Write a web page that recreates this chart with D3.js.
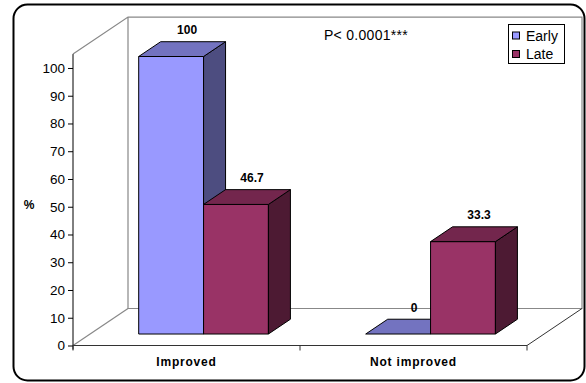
<!DOCTYPE html>
<html>
<head>
<meta charset="utf-8">
<script src="https://cdn.jsdelivr.net/npm/d3@7"></script>
<style>
  html, body { margin: 0; padding: 0; background: #fff; }
  svg { display: block; font-family: "Liberation Sans", Arial, sans-serif; }
</style>
</head>
<body>
<svg id="chart" width="586" height="383"></svg>
<script>
// Data
const categories = ["Improved", "Not improved"];
const seriesNames = ["Early", "Late"];
const earlyValues = [100, 0];
const lateValues = [46.7, 33.3];
const yTicks = [0, 10, 20, 30, 40, 50, 60, 70, 80, 90, 100];
const pLabel = "P< 0.0001***";

const seriesValues = { Early: earlyValues, Late: lateValues };
const colors = {
  Early: { front: "#9999FF", top: "#7373C0", side: "#4D4D80" },
  Late:  { front: "#993366", top: "#73264D", side: "#4D1A33" }
};

const svg = d3.select("#chart");

// Outer frame
svg.append("rect")
  .attr("x", 13.5).attr("y", 4.5).attr("width", 571).attr("height", 376)
  .attr("rx", 14).attr("ry", 14)
  .attr("fill", "#fff").attr("stroke", "#000").attr("stroke-width", 2);

// Plot geometry (front plane + depth vector of the 3D box)
const left = 73, right = 527;
const depth = { dx: 55, dy: -37 };
const y = d3.scaleLinear().domain([0, 105]).range([345.5, 54.1]);
const x0 = d3.scaleBand().domain(categories).range([left, right]).padding(0);
const x1 = d3.scaleBand().domain(seriesNames).range([0, x0.bandwidth()]).paddingOuter(0.75).paddingInner(0);

const yTop = y(105), yBase = y(0);
const wallColor = "#888";

// Back wall, side wall, floor
const walls = svg.append("g").attr("fill", "none").attr("stroke", wallColor).attr("stroke-width", 1.2);
walls.append("path").attr("d", d3.line()([
  [left, yTop], [left + depth.dx, yTop + depth.dy], [right + depth.dx, yTop + depth.dy],
  [right + depth.dx, yBase + depth.dy], [left + depth.dx, yBase + depth.dy], [left + depth.dx, yTop + depth.dy]
]));
walls.append("path").attr("d", d3.line()([[left, yBase], [left + depth.dx, yBase + depth.dy]]));
svg.append("path")
  .attr("d", d3.line()([[right, yBase], [right + depth.dx, yBase + depth.dy]]))
  .attr("stroke", "#333").attr("fill", "none");

// Bars: front face sits at 0.31 of the depth, bar depth is 0.40 of it
const fFront = 0.31, fDepth = 0.40;
const ox = depth.dx * fFront, oy = depth.dy * fFront;
const bx = depth.dx * fDepth, by = depth.dy * fDepth;

const bars = [];
categories.forEach((c, i) => {
  seriesNames.forEach(s => {
    bars.push({ cat: c, series: s, value: seriesValues[s][i] });
  });
});

const barG = svg.append("g").attr("stroke", "#000").attr("stroke-width", 1).attr("stroke-linejoin", "round");
bars.forEach(d => {
  const xL = x0(d.cat) + x1(d.series) + ox;
  const xR = xL + x1.bandwidth();
  const yB = y(0) + oy;
  const yT = y(d.value) + oy;
  const col = colors[d.series];
  if (d.value > 0) {
    barG.append("path").attr("fill", col.front)
      .attr("d", d3.line()([[xL, yT], [xR, yT], [xR, yB], [xL, yB]]) + "Z");
    barG.append("path").attr("fill", col.side)
      .attr("d", d3.line()([[xR, yT], [xR + bx, yT + by], [xR + bx, yB + by], [xR, yB]]) + "Z");
  }
  barG.append("path").attr("fill", col.top)
    .attr("d", d3.line()([[xL, yT], [xL + bx, yT + by], [xR + bx, yT + by], [xR, yT]]) + "Z");

  svg.append("text")
    .attr("x", (xL + xR) / 2 + bx / 2 + 5)
    .attr("y", yT + by / 2 - 19)
    .attr("text-anchor", "middle").attr("dominant-baseline", "central")
    .attr("font-size", 12).attr("font-weight", "bold").attr("fill", "#000")
    .text(d.value);
});

// Y axis
const yAxis = svg.append("g")
  .attr("transform", `translate(${left},0)`)
  .call(d3.axisLeft(y).tickValues(yTicks).tickSize(5).tickPadding(3).tickFormat(d3.format("d")));
yAxis.select(".domain").attr("d", `M-0,${yTop}V${yBase + 4}`).attr("stroke", "#000");
yAxis.selectAll(".tick line").attr("stroke", "#000");
yAxis.selectAll(".tick text").attr("font-size", 13.5).attr("fill", "#000")
  .attr("font-family", "'Liberation Sans', Arial, sans-serif");

svg.append("text")
  .attr("x", 29).attr("y", 205).attr("text-anchor", "middle").attr("dominant-baseline", "central")
  .attr("font-size", 12).attr("font-weight", "bold").text("%");

// Category axis
const xAxis = svg.append("g").attr("transform", `translate(0,${yBase})`);
xAxis.append("line").attr("x1", left).attr("x2", right).attr("stroke", "#333").attr("stroke-width", 1.2);
const boundaries = [left].concat(categories.map(c => x0(c) + x0.bandwidth()));
xAxis.selectAll("line.tick").data(boundaries).join("line")
  .attr("class", "tick").attr("x1", d => d).attr("x2", d => d).attr("y1", 0).attr("y2", 5)
  .attr("stroke", "#333");
xAxis.selectAll("text").data(categories).join("text")
  .attr("x", d => x0(d) + x0.bandwidth() / 2).attr("y", 16)
  .attr("text-anchor", "middle").attr("dominant-baseline", "central")
  .attr("font-size", 12).attr("font-weight", "bold").attr("letter-spacing", 0.8).text(d => d);

// Significance note
svg.append("text")
  .attr("x", 366).attr("y", 35).attr("text-anchor", "middle").attr("dominant-baseline", "central")
  .attr("font-size", 14).attr("letter-spacing", 0.3).text(pLabel);

// Legend
const legend = svg.append("g");
legend.append("rect").attr("x", 508.5).attr("y", 24.5).attr("width", 56).attr("height", 39)
  .attr("fill", "#fff").attr("stroke", "#000");
seriesNames.forEach((s, i) => {
  const cy = 35.5 + i * 18.5;
  legend.append("rect").attr("x", 512.5).attr("y", cy - 3.5).attr("width", 7).attr("height", 7)
    .attr("fill", colors[s].front).attr("stroke", "#000");
  legend.append("text").attr("x", 526).attr("y", cy).attr("dominant-baseline", "central")
    .attr("font-size", 14).text(s);
});
</script>
</body>
</html>
